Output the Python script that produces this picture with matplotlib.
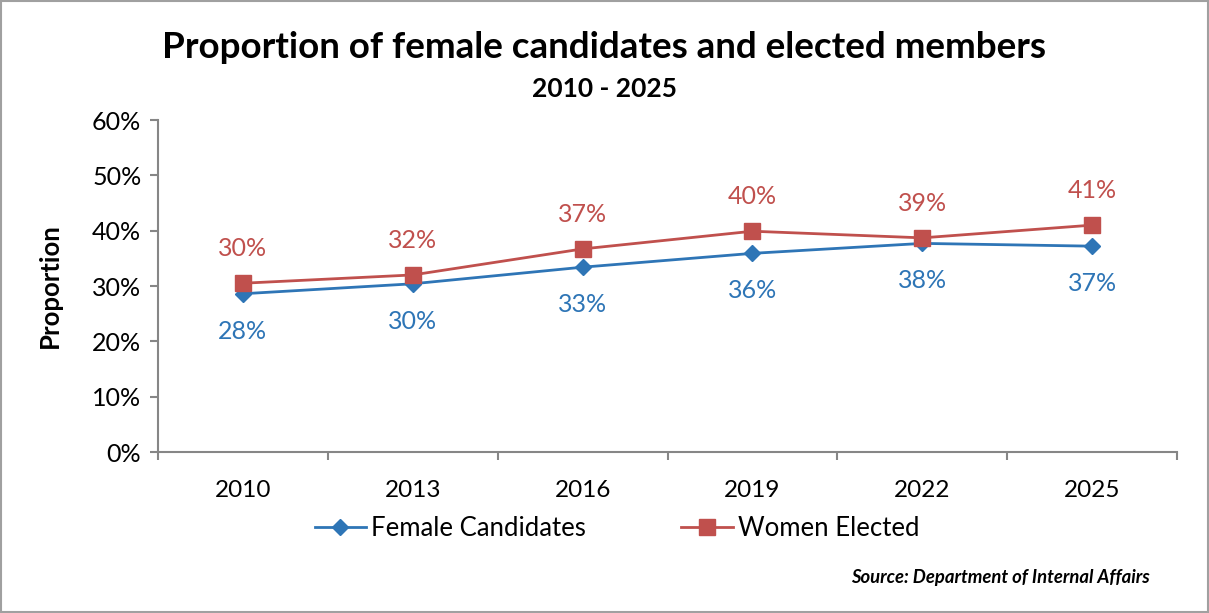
import matplotlib.pyplot as plt
from matplotlib.patches import Rectangle
from matplotlib.ticker import PercentFormatter, FixedLocator

plt.rcParams["font.family"] = ["Lato", "DejaVu Sans"]

years = ["2010", "2013", "2016", "2019", "2022", "2025"]
female_candidates = [28.6, 30.4, 33.4, 35.9, 37.7, 37.2]
women_elected = [30.5, 32.0, 36.7, 39.9, 38.7, 41.0]
candidate_labels = ["28%", "30%", "33%", "36%", "38%", "37%"]
elected_labels = ["30%", "32%", "37%", "40%", "39%", "41%"]

BLUE = "#2E75B6"
RED = "#C0504D"
AXIS = "#868686"

fig = plt.figure(figsize=(12.09, 6.13), dpi=100)
ax = fig.add_axes([158 / 1209, 1 - 452 / 613, 1019 / 1209, 332 / 613])

x = range(len(years))
ax.plot(x, female_candidates, color=BLUE, lw=2, marker="D", ms=8.5,
        label="Female Candidates")
ax.plot(x, women_elected, color=RED, lw=2, marker="s", ms=11,
        label="Women Elected")

for i in x:
    ax.annotate(elected_labels[i], (i, women_elected[i]), xytext=(0, 25),
                textcoords="offset points", ha="center", va="center",
                fontsize=18, color="#C0504D")
    ax.annotate(candidate_labels[i], (i, female_candidates[i]), xytext=(0, -27),
                textcoords="offset points", ha="center", va="center",
                fontsize=18, color=BLUE)

ax.set_xlim(-0.5, len(years) - 0.5)
ax.set_ylim(0, 60)
ax.set_yticks(range(0, 61, 10))
ax.yaxis.set_major_formatter(PercentFormatter(decimals=0))
ax.set_xticks(list(x))
ax.set_xticklabels(years)
ax.xaxis.set_minor_locator(FixedLocator([i - 0.5 for i in range(len(years) + 1)]))
ax.tick_params(axis="x", which="major", length=0, pad=20, labelsize=17.5)
ax.tick_params(axis="x", which="minor", length=6, width=1.5, color=AXIS, direction="out")
ax.tick_params(axis="y", length=6, width=1.5, color=AXIS, labelsize=18, pad=6)

for side in ["top", "right"]:
    ax.spines[side].set_visible(False)
for side in ["left", "bottom"]:
    ax.spines[side].set_color(AXIS)
    ax.spines[side].set_linewidth(1.5)

ax.set_ylabel("Proportion", fontsize=18.5, fontweight="bold", labelpad=22)

fig.text(0.5, 1 - 47 / 613, "Proportion of female candidates and elected members",
         ha="center", va="center", fontsize=26.5, fontweight="bold")
fig.text(0.5, 1 - 89 / 613, "2010 - 2025", ha="center", va="center",
         fontsize=19, fontweight="bold")

ax.legend(loc="center", bbox_to_anchor=(617 / 1209, 1 - 528 / 613),
          bbox_transform=fig.transFigure, ncol=2, frameon=False, fontsize=18.5,
          handlelength=2.0, columnspacing=3.7, handletextpad=0.2)

fig.text(1150 / 1209, 1 - 578 / 613, "Source: Department of Internal Affairs",
         ha="right", va="center", fontsize=13.3, fontweight="bold", style="italic")

fig.patches.append(Rectangle((0.001, 0.001), 0.998, 0.997, transform=fig.transFigure,
                             fill=False, edgecolor="#A0A0A0", lw=1.5))

fig.savefig("out.png", dpi=100)
